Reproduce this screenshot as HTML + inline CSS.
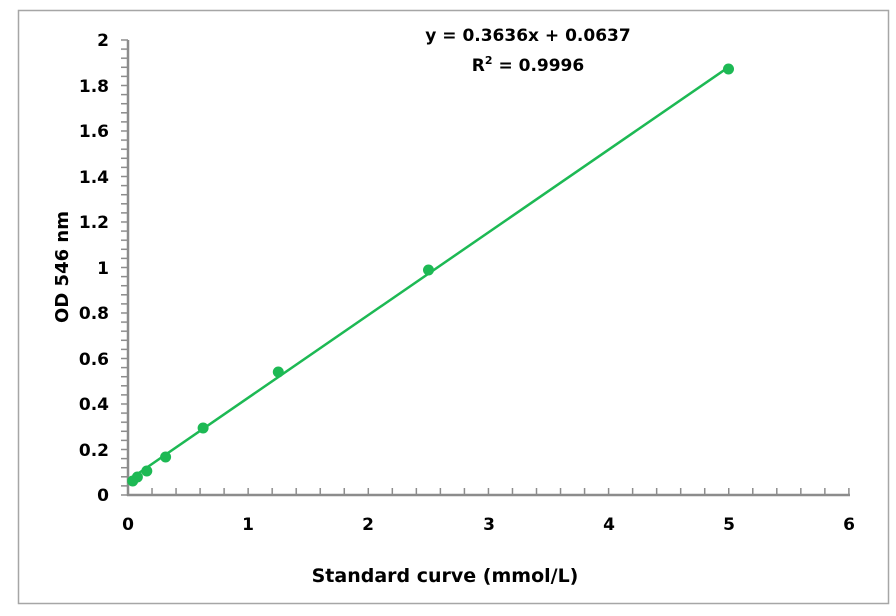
<!DOCTYPE html>
<html><head><style>
body{margin:0;background:#fff}
svg text{font-family:"DejaVu Sans","Liberation Sans",sans-serif;font-weight:bold;fill:#000}
</style></head><body>
<svg width="896" height="611" viewBox="0 0 896 611" xmlns="http://www.w3.org/2000/svg">
<defs>
<pattern id="py" patternUnits="userSpaceOnUse" width="20" height="9.1" patternTransform="translate(0,2.85)">
<rect x="0" y="0" width="20" height="1.5" fill="#8c8c8c"/></pattern>
<pattern id="px" patternUnits="userSpaceOnUse" width="24.03" height="20" patternTransform="translate(7.1,0)">
<rect x="0" y="0" width="1.5" height="20" fill="#8c8c8c"/></pattern>
</defs>
<rect x="18.5" y="10.5" width="870" height="593" fill="#fff" stroke="#a6a6a6" stroke-width="1.5"/>
<rect x="121" y="39" width="7" height="457" fill="url(#py)"/>
<rect x="127" y="488" width="723" height="7" fill="url(#px)"/>
<g stroke="#8c8c8c" stroke-width="2.5" fill="none">
<line x1="128" y1="40" x2="128" y2="496"/>
<line x1="127" y1="495" x2="850" y2="495"/>
</g>
<g font-size="17" text-anchor="end">
<text x="109" y="46">2</text><text x="109" y="92">1.8</text><text x="109" y="137">1.6</text>
<text x="109" y="183">1.4</text><text x="109" y="228">1.2</text><text x="109" y="274">1</text>
<text x="109" y="319">0.8</text><text x="109" y="365">0.6</text><text x="109" y="410">0.4</text>
<text x="109" y="456">0.2</text><text x="109" y="501">0</text>
</g>
<g font-size="17" text-anchor="middle">
<text x="128" y="530">0</text><text x="248" y="530">1</text><text x="368" y="530">2</text>
<text x="489" y="530">3</text><text x="609" y="530">4</text><text x="729" y="530">5</text><text x="849" y="530">6</text>
<text x="445" y="582" font-size="19">Standard curve (mmol/L)</text>
<text x="528" y="41">y = 0.3636x + 0.0637</text>
<text x="528" y="71">R<tspan font-size="11" dy="-7">2</tspan><tspan dy="7"> = 0.9996</tspan></text>
</g>
<text font-size="18" text-anchor="middle" transform="translate(68,267) rotate(-90)">OD 546 nm</text>
<line x1="128" y1="480.5" x2="729" y2="66.8" stroke="#1db954" stroke-width="2.5"/>
<g fill="#1db954">
<circle cx="132.7" cy="481" r="5.5"/><circle cx="137.4" cy="477" r="5.5"/><circle cx="146.8" cy="471" r="5.5"/>
<circle cx="165.6" cy="457" r="5.5"/><circle cx="203.1" cy="428" r="5.5"/><circle cx="278.3" cy="372" r="5.5"/>
<circle cx="428.5" cy="270" r="5.5"/><circle cx="728.5" cy="69" r="5.5"/>
</g>
</svg>
</body></html>
